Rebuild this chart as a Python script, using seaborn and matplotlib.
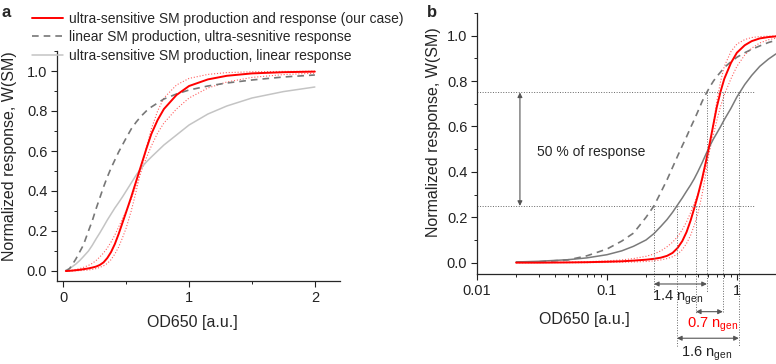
import matplotlib
matplotlib.use("Agg")
import matplotlib.pyplot as plt
import matplotlib.ticker as mticker
import seaborn as sns
import pandas as pd

# OD650 sample points (a.u.)
od = [0.02, 0.03, 0.05, 0.07, 0.1, 0.13, 0.16, 0.2, 0.23, 0.26, 0.29, 0.32, 0.35, 0.38, 0.41, 0.44,
      0.47, 0.5, 0.54, 0.58, 0.62, 0.66, 0.7, 0.75, 0.8, 0.9, 1.0, 1.15, 1.3, 1.5, 1.75, 2.0]

# ultra-sensitive SM production and response (our case)
w_ours = [0.0, 0.0, 0.001, 0.002, 0.004, 0.006, 0.009, 0.013, 0.017, 0.022, 0.030, 0.043, 0.065, 0.095,
          0.135, 0.185, 0.24, 0.295, 0.37, 0.45, 0.53, 0.61, 0.685, 0.755, 0.81, 0.88, 0.925, 0.958,
          0.976, 0.988, 0.994, 0.997]
# dotted bounds around our case
w_ours_lo = [0.0, 0.001, 0.002, 0.004, 0.008, 0.012, 0.018, 0.028, 0.038, 0.052, 0.07, 0.09, 0.115, 0.145,
             0.18, 0.22, 0.26, 0.30, 0.36, 0.43, 0.50, 0.565, 0.625, 0.69, 0.74, 0.81, 0.865, 0.915,
             0.945, 0.968, 0.982, 0.989]
w_ours_hi = [0.0, 0.0, 0.0, 0.0, 0.001, 0.002, 0.003, 0.005, 0.008, 0.012, 0.018, 0.026, 0.038, 0.057,
             0.085, 0.12, 0.165, 0.215, 0.30, 0.40, 0.51, 0.615, 0.71, 0.80, 0.865, 0.93, 0.963, 0.983,
             0.992, 0.996, 0.998, 0.999]
# linear SM production, ultra-sensitive response
w_lin_prod = [0.002, 0.004, 0.012, 0.03, 0.06, 0.095, 0.13, 0.20, 0.25, 0.31, 0.365, 0.42, 0.47, 0.515,
              0.555, 0.595, 0.63, 0.665, 0.71, 0.745, 0.775, 0.80, 0.82, 0.84, 0.86, 0.885, 0.905, 0.925,
              0.94, 0.955, 0.97, 0.98]
# ultra-sensitive SM production, linear response
w_lin_resp = [0.003, 0.006, 0.013, 0.021, 0.035, 0.052, 0.072, 0.10, 0.128, 0.16, 0.19, 0.222, 0.255, 0.285,
              0.315, 0.342, 0.37, 0.40, 0.44, 0.48, 0.515, 0.545, 0.57, 0.60, 0.63, 0.68, 0.73, 0.785,
              0.825, 0.865, 0.897, 0.92]

legend_labels = ["ultra-sensitive SM production and response (our case)",
                 "linear SM production, ultra-sesnitive response",
                 "ultra-sensitive SM production, linear response"]

# OD where W = 0.25 and W = 0.75 (panel b), and the spread in generations
cross_lin_prod = [0.23, 0.588]
cross_ours = [0.484, 0.78]
cross_lin_resp = [0.346, 1.035]
spread_text = ["1.4", "0.7", "1.6"]

df = pd.DataFrame({"od": od, "ours": w_ours, "lo": w_ours_lo, "hi": w_ours_hi,
                   "lin_prod": w_lin_prod, "lin_resp": w_lin_resp})

sns.set_theme(style="ticks")
plt.rcParams["font.family"] = ["Liberation Sans", "DejaVu Sans"]
plt.rcParams["axes.linewidth"] = 0.9

fig = plt.figure(figsize=(7.76, 3.64), dpi=100)
ax_a = fig.add_axes([57 / 776, 1 - 281 / 364, 283 / 776, 230 / 364])
ax_b = fig.add_axes([477 / 776, 1 - 274 / 364, 299 / 776, 261 / 364])

RED = "#ff0000"
RED_DOT = "#ff6060"


def draw_curves(ax, solid_gray):
    sns.lineplot(data=df, x="od", y="lo", ax=ax, color=RED_DOT, lw=0.8, linestyle=":")
    sns.lineplot(data=df, x="od", y="hi", ax=ax, color=RED_DOT, lw=0.8, linestyle=":")
    sns.lineplot(data=df, x="od", y="lin_resp", ax=ax, color=solid_gray, lw=1.1)
    h3 = ax.lines[-1]
    sns.lineplot(data=df, x="od", y="lin_prod", ax=ax, color="#777777", lw=1.2)
    h2 = ax.lines[-1]
    h2.set_dashes((4, 3))
    sns.lineplot(data=df, x="od", y="ours", ax=ax, color=RED, lw=1.4)
    h1 = ax.lines[-1]
    return [h1, h2, h3]


def style_axis(ax):
    sns.despine(ax=ax)
    ax.set_ylim(-0.05, 1.1)
    ax.set_yticks([0.0, 0.2, 0.4, 0.6, 0.8, 1.0])
    ax.yaxis.set_major_formatter(mticker.FormatStrFormatter("%.1f"))
    ax.yaxis.set_minor_locator(mticker.MultipleLocator(0.1))
    ax.tick_params(which="major", direction="out", length=4, width=0.8, labelsize=10.5, pad=3, colors="#222222")
    ax.tick_params(which="minor", direction="out", length=2.5, width=0.7, colors="#222222")
    ax.set_ylabel("Normalized response, W(SM)", fontsize=11.5)
    ax.set_xlabel("OD650 [a.u.]", fontsize=11.5)


# ---- panel a: linear OD axis
handles = draw_curves(ax_a, "#c4c4c4")
style_axis(ax_a)
ax_a.set_xlim(-0.05, 2.2)
ax_a.set_xticks([0, 1, 2])
ax_a.xaxis.set_minor_locator(mticker.MultipleLocator(0.5))
ax_a.yaxis.set_label_coords(-0.141, 0.543)
ax_a.xaxis.set_label_coords(0.48, -0.15)
fig.legend(handles, legend_labels, loc="upper left", bbox_to_anchor=(32 / 776, 0.968),
           frameon=False, fontsize=10, handlelength=2.2, handletextpad=0.45,
           labelspacing=0.32, borderpad=0, borderaxespad=0)

# ---- panel b: log OD axis
draw_curves(ax_b, "#7a7a7a")
style_axis(ax_b)
ax_b.set_xscale("log")
ax_b.set_xlim(0.01, 2.0)
ax_b.xaxis.set_major_locator(mticker.FixedLocator([0.01, 0.1, 1]))
ax_b.xaxis.set_major_formatter(mticker.FixedFormatter(["0.01", "0.1", "1"]))
ax_b.xaxis.set_minor_locator(mticker.LogLocator(base=10, subs=range(2, 10)))
ax_b.xaxis.set_minor_formatter(mticker.NullFormatter())
ax_b.yaxis.set_label_coords(-0.12, 0.544)
ax_b.xaxis.set_label_coords(0.36, -0.145)

guide = dict(color="#666666", lw=0.7, linestyle=":", clip_on=False)
for level in [0.25, 0.75]:
    ax_b.plot([0.01, 1.375], [level, level], **guide)

arrow = dict(arrowstyle="<|-|>", color="#555555", lw=0.8, shrinkA=0, shrinkB=0, mutation_scale=7)
ax_b.annotate("", xy=(0.0214, 0.75), xytext=(0.0214, 0.25), arrowprops=arrow)
ax_b.text(0.0288, 0.488, "50 % of response", fontsize=10, va="center", ha="left")

# (crossings, dotted line end, arrow height, text x, text y, text colour)
spans = [(cross_lin_prod, -0.13, -0.094, 0.352, -0.155, "#222222"),
         (cross_ours, -0.22, -0.216, 0.653, -0.272, RED),
         (cross_lin_resp, -0.37, -0.333, 0.588, -0.40, "#222222")]
for (crossing, y_end, y_arr, x_txt, y_txt, col), txt in zip(spans, spread_text):
    x25, x75 = crossing
    ax_b.plot([x25, x25], [0.25, y_end], **guide)
    ax_b.plot([x75, x75], [0.75, y_end], **guide)
    ax_b.annotate("", xy=(x75, y_arr), xytext=(x25, y_arr), arrowprops=arrow, annotation_clip=False)
    ax_b.text(x_txt, y_txt, txt + r" n$_{\mathregular{gen}}$", fontsize=10.5, color=col,
              ha="center", va="center", clip_on=False)

fig.text(0.002, 0.985, "a", fontsize=12, fontweight="bold", va="top")
fig.text(427 / 776, 0.985, "b", fontsize=12, fontweight="bold", va="top")

fig.savefig("out.png", dpi=100)
